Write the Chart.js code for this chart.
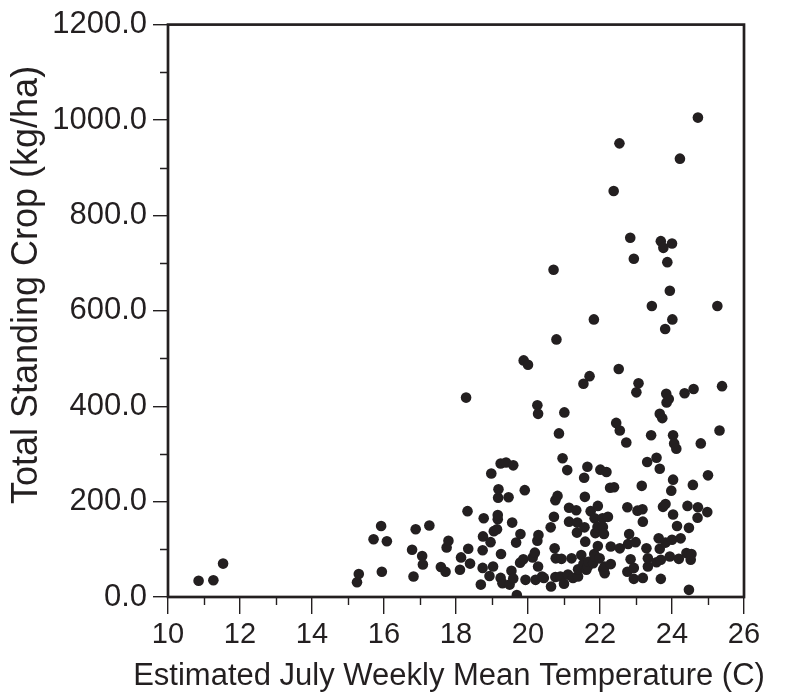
<!DOCTYPE html>
<html>
<head>
<meta charset="utf-8">
<script src="https://cdn.jsdelivr.net/npm/chart.js@4.4.1/dist/chart.umd.min.js"></script>
<style>
  html, body { margin: 0; padding: 0; background: #fff; }
  #wrap { width: 789px; height: 698px; }
</style>
</head>
<body>
<div id="wrap"><canvas id="plot" width="789" height="698"></canvas></div>
<script>
// estimated July weekly mean temperature (C)
const temperature = [
  10.85, 11.26, 11.53, 15.25, 15.30, 15.71, 15.92, 15.94, 16.08, 16.78,
  16.82, 16.88, 17.06, 17.08, 17.26, 17.58, 17.71, 17.74, 17.79, 18.11,
  18.14, 18.28, 18.32, 18.34, 18.39, 18.69, 18.74, 18.74, 18.75, 18.77,
  18.93, 18.96, 18.98, 19.03, 19.05, 19.14, 19.16, 19.16, 19.17, 19.18,
  19.24, 19.24, 19.25, 19.29, 19.39, 19.46, 19.49, 19.54, 19.56, 19.59,
  19.59, 19.67, 19.69, 19.78, 19.79, 19.87, 19.88, 19.91, 19.93, 20.00,
  20.13, 20.19, 20.21, 20.26, 20.26, 20.28, 20.28, 20.29, 20.39, 20.44,
  20.63, 20.64, 20.71, 20.72, 20.74, 20.76, 20.76, 20.77, 20.79, 20.82,
  20.86, 20.90, 20.93, 20.96, 21.00, 21.01, 21.09, 21.11, 21.14, 21.14,
  21.21, 21.25, 21.34, 21.36, 21.37, 21.39, 21.39, 21.48, 21.54, 21.54,
  21.56, 21.57, 21.58, 21.59, 21.62, 21.65, 21.66, 21.68, 21.71, 21.74,
  21.81, 21.83, 21.84, 21.85, 21.86, 21.87, 21.93, 21.94, 21.94, 21.99,
  22.01, 22.07, 22.08, 22.09, 22.11, 22.13, 22.13, 22.18, 22.22, 22.28,
  22.30, 22.30, 22.38, 22.39, 22.45, 22.52, 22.54, 22.55, 22.55, 22.73,
  22.76, 22.76, 22.78, 22.81, 22.84, 22.85, 22.94, 22.94, 22.94, 22.99,
  23.01, 23.04, 23.07, 23.16, 23.18, 23.19, 23.19, 23.29, 23.31, 23.33,
  23.33, 23.42, 23.44, 23.57, 23.57, 23.63, 23.66, 23.66, 23.66, 23.69,
  23.69, 23.69, 23.73, 23.75, 23.76, 23.81, 23.82, 23.82, 23.84, 23.85,
  23.87, 23.91, 23.94, 23.94, 23.98, 24.00, 24.00, 24.01, 24.03, 24.03,
  24.03, 24.06, 24.12, 24.14, 24.19, 24.22, 24.24, 24.35, 24.40, 24.43,
  24.47, 24.47, 24.52, 24.54, 24.58, 24.60, 24.71, 24.72, 24.72, 24.80,
  24.98, 25.00, 25.26, 25.32, 25.39
];
// total standing crop (kg/ha), same order as temperature
const standingCrop = [
  34, 35, 70, 31, 48, 121, 149, 53, 117, 99,
  43, 142, 86, 68, 150, 63, 53, 104, 118, 57,
  83, 418, 180, 101, 70, 26, 61, 98, 127, 165,
  44, 115, 259, 64, 138, 142, 163, 172, 208, 226,
  40, 280, 90, 29, 282, 209, 26, 55, 156, 39,
  276, 114, 4, 72, 132, 79, 496, 224, 36, 487,
  83, 93, 36, 118, 402, 64, 384, 130, 43, 40,
  146, 22, 686, 168, 102, 42, 203, 81, 540, 212,
  343, 43, 80, 291, 28, 387, 266, 47, 158, 187,
  81, 40, 182, 135, 156, 43, 58, 88, 69, 447,
  250, 146, 210, 116, 57, 273, 64, 74, 463, 180,
  71, 582, 90, 165, 85, 134, 147, 107, 191, 81,
  267, 165, 147, 58, 132, 50, 64, 262, 168, 229,
  69, 106, 851, 230, 365, 478, 951, 102, 349, 324,
  53, 188, 111, 132, 753, 79, 38, 61, 709, 115,
  429, 181, 448, 233, 184, 40, 158, 102, 283, 64,
  81, 339, 610, 73, 292, 123, 101, 269, 384, 38,
  78, 746, 375, 189, 732, 562, 114, 195, 426, 408,
  702, 415, 85, 642, 223, 120, 741, 582, 173, 246,
  339, 322, 311, 149, 80, 919, 123, 427, 92, 191,
  15, 145, 78, 90, 235, 436, 166, 188, 1005, 322,
  178, 255, 610, 349, 442
];
const xTicks = [10, 12, 14, 16, 18, 20, 22, 24, 26];
const xMinorTicks = [11, 13, 15, 17, 19, 21, 23, 25];
const yTicks = [0, 200, 400, 600, 800, 1000, 1200];
const yMinorTicks = [100, 300, 500, 700, 900, 1100];
const xTitle = 'Estimated July Weekly Mean Temperature (C)';
const yTitle = 'Total Standing Crop (kg/ha)';

const ink = '#231f20';
const family = "'Liberation Sans', Arial, Helvetica, sans-serif";

const points = temperature.map((t, i) => ({ x: t, y: standingCrop[i] }));

// frame, minor ticks and the two axis titles (drawn here so they are not squeezed)
const decor = {
  id: 'decor',
  afterDraw(chart) {
    const ctx = chart.ctx;
    const a = chart.chartArea;
    const xs = chart.scales.x, ys = chart.scales.y;
    ctx.save();
    ctx.strokeStyle = ink;
    ctx.lineWidth = 1.4;
    ctx.beginPath();
    xMinorTicks.forEach(v => {
      const px = Math.round(xs.getPixelForValue(v)) + 0.5;
      ctx.moveTo(px, a.bottom);
      ctx.lineTo(px, a.bottom + 8);
    });
    yMinorTicks.forEach(v => {
      const py = Math.round(ys.getPixelForValue(v)) + 0.5;
      ctx.moveTo(a.left - 8, py);
      ctx.lineTo(a.left, py);
    });
    ctx.stroke();
    ctx.lineWidth = 2.7;
    ctx.strokeRect(a.left, a.top, a.right - a.left, a.bottom - a.top);

    ctx.fillStyle = ink;
    ctx.textAlign = 'center';
    ctx.font = '31px ' + family;
    ctx.textBaseline = 'alphabetic';
    ctx.fillText(xTitle, 449, 685);

    ctx.translate(27, 285);
    ctx.rotate(-Math.PI / 2);
    ctx.font = '36px ' + family;
    ctx.textBaseline = 'middle';
    ctx.fillText(yTitle, 0, 0);
    ctx.restore();
  }
};

new Chart(document.getElementById('plot'), {
  type: 'scatter',
  data: {
    datasets: [{
      data: points,
      backgroundColor: ink,
      borderColor: ink,
      borderWidth: 0,
      pointRadius: 5.3,
      pointHoverRadius: 5.3
    }]
  },
  options: {
    responsive: false,
    animation: false,
    devicePixelRatio: 1,
    layout: { padding: { left: 0, right: 45, top: 23, bottom: 0 } },
    plugins: { legend: { display: false }, tooltip: { enabled: false } },
    scales: {
      x: {
        type: 'linear',
        min: 10,
        max: 26,
        afterFit: s => { s.height = 101; },
        afterBuildTicks: s => { s.ticks = xTicks.map(v => ({ value: v })); },
        grid: { drawOnChartArea: false, color: ink, lineWidth: 1.4, tickLength: 17 },
        border: { display: false },
        ticks: {
          color: ink,
          padding: 4,
          maxRotation: 0,
          font: { family: family, size: 29 },
          callback: v => String(v)
        }
      },
      y: {
        type: 'linear',
        min: 0,
        max: 1200,
        afterFit: s => { s.width = 168; },
        afterBuildTicks: s => { s.ticks = yTicks.map(v => ({ value: v })); },
        grid: { drawOnChartArea: false, color: ink, lineWidth: 1.4, tickLength: 15 },
        border: { display: false },
        ticks: {
          color: ink,
          padding: 6,
          font: { family: family, size: 31 },
          callback: v => v.toFixed(1)
        }
      }
    }
  },
  plugins: [decor]
});
</script>
</body>
</html>
